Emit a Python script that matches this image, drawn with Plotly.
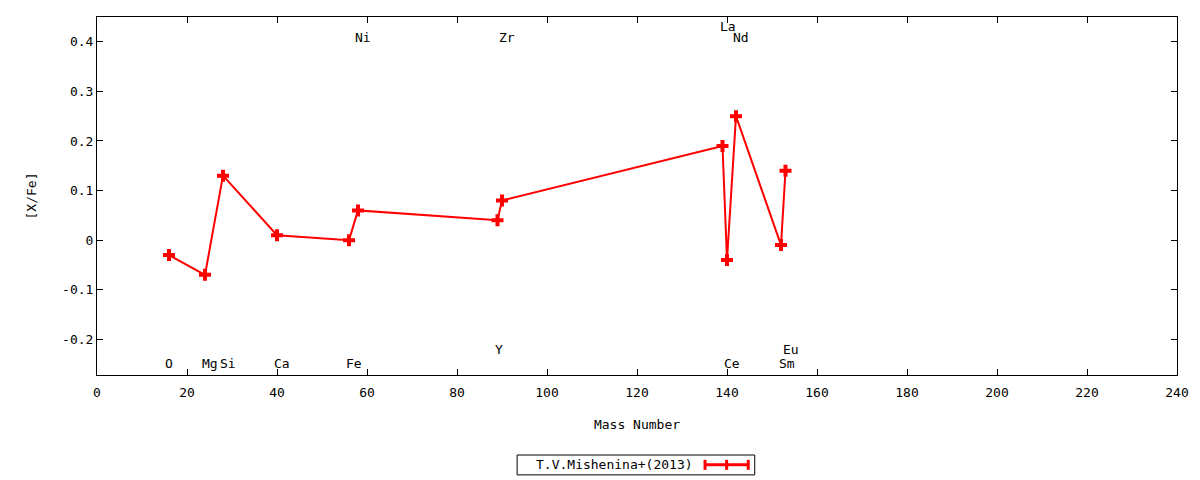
import plotly.graph_objects as go

# abundance data
elements = ["O", "Mg", "Si", "Ca", "Fe", "Ni", "Y", "Zr", "La", "Ce", "Nd", "Sm", "Eu"]
mass = [16, 24, 28, 40, 56, 58, 89, 90, 139, 140, 142, 152, 153]
xfe = [-0.03, -0.07, 0.13, 0.01, 0.0, 0.06, 0.04, 0.08, 0.19, -0.04, 0.25, -0.01, 0.14]
label_y = [-0.248, -0.248, -0.248, -0.248, -0.248, 0.408, -0.22, 0.408, 0.43, -0.248, 0.408, -0.248, -0.22]
label_x = [16, 25.2, 29, 41, 57, 59, 89.3, 91, 140.3, 141, 143.2, 153.3, 154.2]

font = "DejaVu Sans Mono"
fsize = 13

fig = go.Figure()
fig.add_trace(go.Scatter(
    x=mass, y=xfe, mode="lines+markers",
    line=dict(color="#ff0000", width=2),
    marker=dict(symbol="cross", size=10, color="#ff0000"),
    name="T.V.Mishenina+(2013)", showlegend=False,
))

for el, lx, ly in zip(elements, label_x, label_y):
    fig.add_annotation(x=lx, y=ly, text=el, showarrow=False,
                       font=dict(family=font, size=fsize, color="black"))

# legend drawn by hand (gnuplot style: key text left, sample right)
fig.add_shape(type="rect", xref="paper", yref="paper",
              x0=0.389, x1=0.609, y0=-0.2235, y1=-0.279,
              line=dict(color="black", width=1))
fig.add_annotation(xref="paper", yref="paper", x=0.479, y=-0.251,
                   text="T.V.Mishenina+(2013)", showarrow=False,
                   xanchor="center", yanchor="middle",
                   font=dict(family=font, size=fsize, color="black"))
fig.add_shape(type="line", xref="paper", yref="paper",
              x0=0.563, x1=0.603, y0=-0.251, y1=-0.251,
              line=dict(color="#ff0000", width=3))
for px_ in [0.563, 0.583, 0.603]:
    fig.add_shape(type="line", xref="paper", yref="paper",
                  x0=px_, x1=px_, y0=-0.237, y1=-0.265,
                  line=dict(color="#ff0000", width=3))

axis_common = dict(
    showline=True, linecolor="black", linewidth=1, mirror="ticks",
    ticks="inside", ticklen=6, tickcolor="black", showgrid=False, zeroline=False,
    tickfont=dict(family=font, size=fsize, color="black"),
)
fig.update_xaxes(range=[0, 240], tick0=0, dtick=20, ticklabelstandoff=5,
                 title=dict(text="Mass Number", font=dict(family=font, size=fsize, color="black"), standoff=21),
                 **axis_common)
fig.update_yaxes(range=[-0.272, 0.45], tickvals=[-0.2, -0.1, 0, 0.1, 0.2, 0.3, 0.4],
                 ticktext=["-0.2", "-0.1", "0", "0.1", "0.2", "0.3", "0.4"],
                 title=dict(text="[X/Fe]", font=dict(family=font, size=fsize, color="black"), standoff=22),
                 **axis_common)

fig.update_layout(
    width=1200, height=480,
    margin=dict(l=97, r=23, t=17, b=105),
    plot_bgcolor="white", paper_bgcolor="white",
    font=dict(family=font, size=fsize, color="black"),
)

fig.write_html("out.html", config={"displayModeBar": False},
               post_script="document.body.style.margin='0px';")
